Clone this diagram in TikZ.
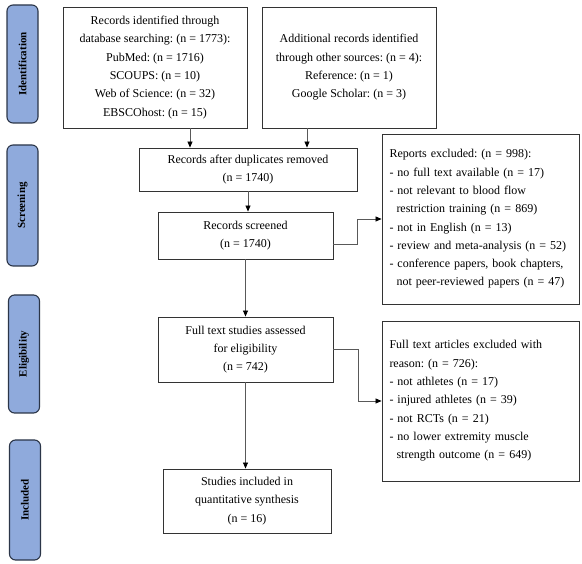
\documentclass[tikz,border=0pt]{standalone}
\usepackage{fontspec}
\setmainfont{Liberation Serif}
\usetikzlibrary{positioning, arrows.meta, calc}

\definecolor{stagefill}{HTML}{8FAADC}
\definecolor{stageline}{HTML}{2B3548}

\frenchspacing

\begin{document}
\begin{tikzpicture}[x=1pt, y=-1pt,
                box/.style={draw=black!80, line width=0.9pt, align=center, inner sep=4pt, font=\fontsize{12}{18.3}\selectfont},
                exbox/.style={box, align=left, inner xsep=7.5pt, text width=182pt},
                stage/.style={draw=stageline, fill=stagefill, line width=1.1pt, rounded corners=6pt, rotate=90, minimum height=31pt, font=\fontsize{11}{13}\selectfont\bfseries},
                arr/.style={-{Triangle[length=6pt, width=5pt, color=black]}, draw=black!65, line width=0.7pt},
            ]

            \useasboundingbox (0,0) rectangle (582,564);

            % Stage bars on the left:
            \node[stage, minimum width=118pt] (sid)  at (22.5, 64)    {Identification};
            \node[stage, minimum width=121pt] (sscr) at (22.5, 205.5) {Screening};
            \node[stage, minimum width=118pt] (sel)  at (24, 354)     {Eligibility};
            \node[stage, minimum width=120pt] (sinc) at (25, 500)     {Included};

            % Main flow:
            \node[box, minimum width=184pt, minimum height=121pt] (rec) at (155, 67.5)
                {Records identified through\\database searching: (n = 1773):\\PubMed: (n = 1716)\\SCOUPS: (n = 10)\\Web of Science: (n = 32)\\EBSCOhost: (n = 15)};
            \node[box, minimum width=174pt, minimum height=121pt] (add) at (349, 67.5)
                {Additional records identified\\through other sources: (n = 4):\\Reference: (n = 1)\\Google Scholar: (n = 3)};
            \node[box, minimum width=218pt, minimum height=43pt] (dup) at (248, 169.5)
                {Records after duplicates removed\\(n = 1740)};
            \node[box, minimum width=175pt, minimum height=47pt] (scr) at (245.5, 235.5)
                {Records screened\\(n = 1740)};
            \node[box, minimum width=175pt, minimum height=65pt] (full) at (245.5, 349.5)
                {Full text studies assessed\\for eligibility\\(n = 742)};
            \node[box, minimum width=168pt, minimum height=64pt] (incl) at (247, 501)
                {Studies included in\\quantitative synthesis\\(n = 16)};

            % Exclusion boxes on the right:
            \node[exbox, minimum height=170pt] (rex) at (480.5, 219)
                {Reports excluded: (n = 998):\\- no full text available (n = 17)\\- not relevant to blood flow\\\hspace*{7pt}restriction training (n = 869)\\- not in English (n = 13)\\- review and meta-analysis (n = 52)\\- conference papers, book chapters,\\\hspace*{7pt}not peer-reviewed papers (n = 47)};
            \node[exbox, minimum height=160pt] (fex) at (480.5, 401)
                {Full text articles excluded with\\reason: (n = 726):\\- not athletes (n = 17)\\- injured athletes (n = 39)\\- not RCTs (n = 21)\\- no lower extremity muscle\\\hspace*{7pt}strength outcome (n = 649)};

            % Arrows:
            \draw[arr] ([xshift=35pt]rec.south) -- ([xshift=35pt]rec.south |- dup.north);
            \draw[arr] ([xshift=-42pt]add.south) -- ([xshift=-42pt]add.south |- dup.north);
            \draw[arr] (dup.south) -- (dup.south |- scr.north);
            \draw[arr] (scr.south) -- (full.north);
            \draw[arr] (full.south) -- (full.south |- incl.north);
            \draw[arr] ([yshift=-8.5pt]scr.east) -- ++(24,0) |- (rex.west);
            \draw[arr] (full.east) -- ++(25,0) |- (fex.west);
        \end{tikzpicture}
\end{document}
